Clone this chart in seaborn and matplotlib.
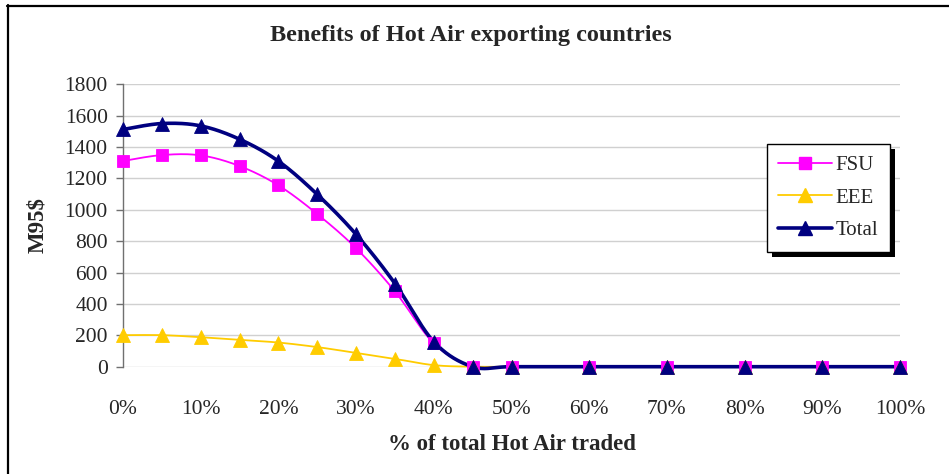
import numpy as np
import pandas as pd
import matplotlib
matplotlib.use("Agg")
import matplotlib.pyplot as plt
from matplotlib.lines import Line2D
from matplotlib.patches import Rectangle
import seaborn as sns

# Share of total Hot Air traded and the resulting benefits (M95$)
traded = [0.00, 0.05, 0.10, 0.15, 0.20, 0.25, 0.30, 0.35, 0.40, 0.45,
          0.50, 0.60, 0.70, 0.80, 0.90, 1.00]
fsu = [1311, 1349, 1347, 1279, 1156, 973, 755, 480, 149, 0,
       0, 0, 0, 0, 0, 0]
eee = [201, 201, 188, 171, 154, 125, 88, 50, 10, 0,
       0, 0, 0, 0, 0, 0]
total = [1512, 1550, 1535, 1450, 1310, 1098, 843, 530, 159, 0,
         0, 0, 0, 0, 0, 0]

x_ticks = [0.0, 0.1, 0.2, 0.3, 0.4, 0.5, 0.6, 0.7, 0.8, 0.9, 1.0]
x_tick_labels = ["0%", "10%", "20%", "30%", "40%", "50%",
                 "60%", "70%", "80%", "90%", "100%"]
y_ticks = [0, 200, 400, 600, 800, 1000, 1200, 1400, 1600, 1800]

series = [
    ("FSU", fsu, "#FF00FF", 1.3, "s", 8.0),
    ("EEE", eee, "#FFCC00", 1.3, "^", 10.5),
    ("Total", total, "#000080", 2.6, "^", 10.5),
]

sns.set_style("white")
plt.rcParams["font.family"] = ["Liberation Serif", "DejaVu Serif"]

W, H, DPI = 949, 474, 100
fig = plt.figure(figsize=(W / DPI, H / DPI), dpi=DPI)
ax_left, ax_right, ax_top, ax_bottom = 123, 900, 84.3, 366.7
ax = fig.add_axes([ax_left / W, 1 - ax_bottom / H,
                   (ax_right - ax_left) / W, (ax_bottom - ax_top) / H])

# pixel scale of the plot area, used so the line smoothing is done in screen space
sx = (ax_right - ax_left) / 1.0
sy = (ax_bottom - ax_top) / 1800.0


def smooth_line(x, y, steps=30):
    """Bezier smoothing through every point (spreadsheet style smoothed line)."""
    P = np.column_stack([np.asarray(x, float) * sx, np.asarray(y, float) * sy])
    Pe = np.vstack([P[0], P, P[-1]])
    t = np.linspace(0, 1, steps)[:, None]
    parts = []
    for i in range(len(P) - 1):
        p0, p1, p2, p3 = Pe[i], Pe[i + 1], Pe[i + 2], Pe[i + 3]
        c1 = p1 + (p2 - p0) / 6.0
        c2 = p2 - (p3 - p1) / 6.0
        seg = ((1 - t) ** 3) * p1 + 3 * ((1 - t) ** 2) * t * c1 \
            + 3 * (1 - t) * t ** 2 * c2 + t ** 3 * p2
        parts.append(seg if i == 0 else seg[1:])
    pts = np.vstack(parts)
    return pts[:, 0] / sx, pts[:, 1] / sy


handles = []
for name, values, color, lw, marker, ms in series:
    cx, cy = smooth_line(traded, values)
    curve = pd.DataFrame({"x": cx, "y": cy})
    sns.lineplot(data=curve, x="x", y="y", ax=ax, color=color, linewidth=lw,
                 sort=False, estimator=None, clip_on=False, zorder=3)
    pts = pd.DataFrame({"x": traded, "y": values})
    sns.lineplot(data=pts, x="x", y="y", ax=ax, color=color, linestyle="none",
                 marker=marker, markersize=ms, markeredgewidth=0.6,
                 markerfacecolor=color, markeredgecolor=color,
                 sort=False, estimator=None, clip_on=False, zorder=4)
    handles.append(Line2D([], [], color=color, linewidth=lw, marker=marker,
                          markersize=ms, markerfacecolor=color,
                          markeredgecolor=color, label=name))

ax.set_xlim(0, 1)
ax.set_ylim(0, 1800)
ax.set_xticks(x_ticks)
ax.set_xticklabels(x_tick_labels)
ax.set_yticks(y_ticks)
ax.set_yticklabels([str(v) for v in y_ticks])

ax.yaxis.grid(True, color="#D0D0D0", linewidth=1.0)
ax.xaxis.grid(False)
ax.set_axisbelow(True)
for side in ["top", "right", "bottom"]:
    ax.spines[side].set_visible(False)
ax.spines["left"].set_color("#707070")
ax.spines["left"].set_linewidth(1.0)

ax.tick_params(axis="y", which="major", direction="out", length=5,
               width=1.0, color="#707070", pad=6, labelsize=15.5,
               left=True)
ax.tick_params(axis="x", which="major", length=0, pad=24, labelsize=15.5)

ax.set_xlabel("% of total Hot Air traded", fontsize=16.5, fontweight="bold")
ax.xaxis.set_label_coords(0.5, (ax_bottom - 445) / (ax_bottom - ax_top))
ax.xaxis.label.set_va("center")
ax.set_ylabel("M95$", fontsize=16.5, fontweight="bold")
ax.yaxis.set_label_coords((38 - ax_left) / (ax_right - ax_left), 0.5)
ax.yaxis.label.set_va("center")

fig.text(471 / W, 1 - 41 / H, "Benefits of Hot Air exporting countries",
         fontsize=17.5, fontweight="bold", ha="center", va="baseline")

leg = fig.legend(handles=handles, loc="upper left",
                 bbox_to_anchor=(767 / W, 1 - 144 / H),
                 fontsize=15, frameon=True, fancybox=False, framealpha=1.0,
                 handlelength=2.55, handletextpad=0.2, labelspacing=0.62,
                 borderpad=0.55, borderaxespad=0.0)
leg.get_frame().set_edgecolor("black")
leg.get_frame().set_linewidth(1.0)
leg.get_frame().set_facecolor("white")
leg.set_zorder(10)

# solid drop shadow behind the legend box
fig.canvas.draw()
bb = leg.get_window_extent().transformed(fig.transFigure.inverted())
shadow = Rectangle((bb.x0 + 5 / W, bb.y0 - 5 / H), bb.width, bb.height,
                   transform=fig.transFigure, facecolor="black",
                   edgecolor="none", zorder=9)
fig.add_artist(shadow)

# chart area outline
fig.add_artist(Line2D([7.5 / W, 7.5 / W], [0, 1 - 5 / H],
                      transform=fig.transFigure, color="black", linewidth=1.6))
fig.add_artist(Line2D([7 / W, 1], [1 - 5.5 / H, 1 - 5.5 / H],
                      transform=fig.transFigure, color="black", linewidth=1.6))

fig.savefig("out.png", dpi=DPI)
